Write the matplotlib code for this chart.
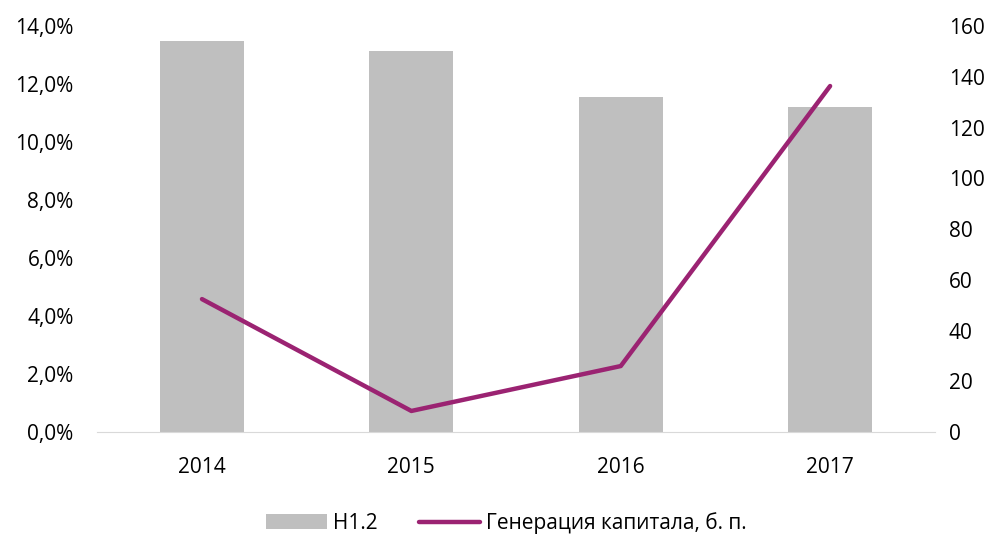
import matplotlib
matplotlib.use("Agg")
import matplotlib.pyplot as plt
from matplotlib.ticker import FuncFormatter

plt.rcParams['font.family'] = ['Open Sans', 'DejaVu Sans']

years = ["2014", "2015", "2016", "2017"]
n12 = [13.48, 13.14, 11.55, 11.2]          # Н1.2, %
capital_gen = [52.4, 8.3, 26.0, 136.4]     # Генерация капитала, б. п.

fig = plt.figure(figsize=(10.03, 5.34), dpi=100)
ax = fig.add_axes([0.097, 0.191, 0.835, 0.76])
ax2 = ax.twinx()

x = range(len(years))
bars = ax.bar(x, n12, width=0.4, color="#BFBFBF", label="Н1.2", zorder=2)
line, = ax2.plot(x, capital_gen, color="#9B2372", linewidth=3.2,
                 solid_capstyle="round", label="Генерация капитала, б. п.", zorder=3)

ax.set_xlim(-0.5, 3.5)
ax.set_ylim(0, 14)
ax.set_yticks([0, 2, 4, 6, 8, 10, 12, 14])
ax.yaxis.set_major_formatter(FuncFormatter(lambda v, p: f"{v:.1f}%".replace(".", ",")))
ax2.set_ylim(0, 160)
ax2.set_yticks(range(0, 161, 20))
ax.set_xticks(list(x))
ax.set_xticklabels(years)

for a in (ax, ax2):
    for s in a.spines.values():
        s.set_visible(False)
    a.tick_params(length=0, labelsize=15, colors="#000000")
ax.spines['bottom'].set_visible(True)
ax.spines['bottom'].set_color("#D9D9D9")
ax.tick_params(axis='x', pad=18)
ax.tick_params(axis='y', pad=17)
ax2.tick_params(axis='y', pad=10)

fig.legend([bars, line], ["Н1.2", "Генерация капитала, б. п."],
           loc="lower center", bbox_to_anchor=(0.505, -0.035), ncol=2, frameon=False,
           fontsize=15, handlelength=2.9, handletextpad=0.3, columnspacing=2.0)

fig.savefig("out.png", dpi=100)
